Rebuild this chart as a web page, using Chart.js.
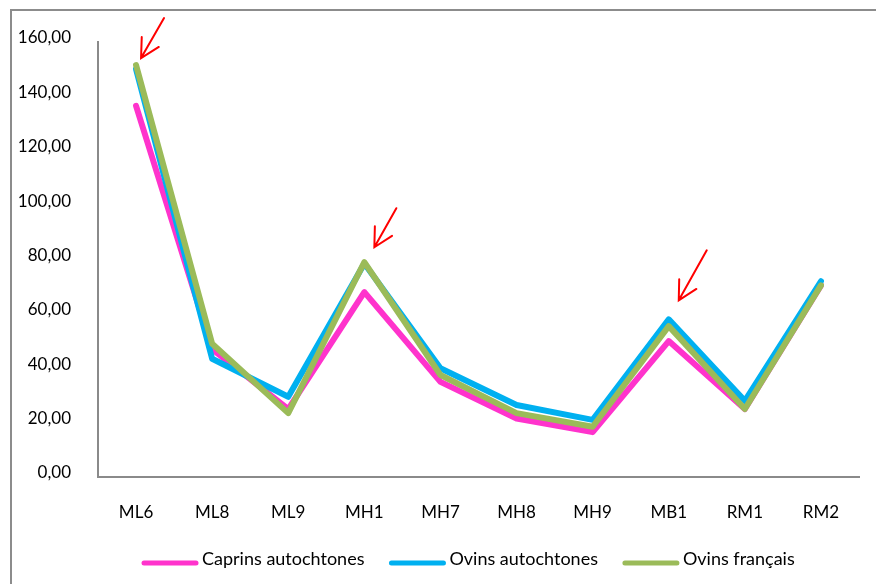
<!DOCTYPE html>
<html>
<head>
<meta charset="utf-8">
<script src="https://cdn.jsdelivr.net/npm/chart.js@4.4.1/dist/chart.umd.min.js"></script>
<style>
  html, body { margin: 0; padding: 0; background: #ffffff; }
  #wrap { width: 876px; height: 584px; position: relative; }
</style>
</head>
<body>
<div id="wrap"><canvas id="c" width="876" height="584"></canvas></div>
<script>
// Sampling sites
const categories = ['ML6', 'ML8', 'ML9', 'MH1', 'MH7', 'MH8', 'MH9', 'MB1', 'RM1', 'RM2'];

// Values per group
const caprinsAutochtones = [136.5, 47, 25, 68, 35, 21.5, 16.5, 50, 25, 70.5];
const ovinsAutochtones   = [150, 43.5, 29.5, 78.5, 40, 26.5, 21, 58, 28, 72];
const ovinsFrancais      = [151.5, 49, 23.5, 79, 37.5, 23.5, 18.5, 55.5, 25, 70.5];

const seriesNames  = ['Caprins autochtones', 'Ovins autochtones', 'Ovins français'];
const seriesColors = ['#FF33CC', '#00B0F0', '#9BBB59'];

// Value axis
const yMin = 0, yMax = 160, yStep = 20;

// Highlighted peaks (red arrows): site and series the arrow points at
const highlighted = [
  { site: 'ML6', series: 2, tip: [5, -7],   tail: [23, -40] },
  { site: 'MH1', series: 2, tip: [10, -15], tail: [22, -39] },
  { site: 'MB1', series: 1, tip: [10, -19], tail: [28, -50] }
];

const FONT = 'Lato, "Open Sans", "DejaVu Sans", sans-serif';
const AXIS_GREY = '#8a8a8a';

const fmt = v => v.toFixed(2).replace('.', ',');

// Outer frame of the chart object (left and top edges)
const framePlugin = {
  id: 'frame',
  beforeDraw(chart) {
    const ctx = chart.ctx;
    ctx.save();
    ctx.fillStyle = '#ffffff';
    ctx.fillRect(0, 0, chart.width, chart.height);
    ctx.strokeStyle = '#8c8c8c';
    ctx.lineWidth = 2;
    ctx.beginPath();
    ctx.moveTo(11, chart.height + 2);
    ctx.lineTo(11, 10);
    ctx.lineTo(chart.width + 2, 10);
    ctx.stroke();
    ctx.restore();
  }
};

// Red arrows pointing at the peaks
const arrowPlugin = {
  id: 'arrows',
  afterDatasetsDraw(chart) {
    const ctx = chart.ctx;
    ctx.save();
    ctx.strokeStyle = '#FF0000';
    ctx.lineWidth = 2;
    ctx.lineCap = 'round';
    highlighted.forEach(a => {
      const idx = categories.indexOf(a.site);
      const pt = chart.getDatasetMeta(a.series).data[idx];
      const tx = pt.x + a.tip[0], ty = pt.y + a.tip[1];
      const sx = tx + a.tail[0], sy = ty + a.tail[1];
      const ang = Math.atan2(sy - ty, sx - tx);
      const wing = 21, spread = 28 * Math.PI / 180;
      ctx.beginPath();
      ctx.moveTo(sx, sy);
      ctx.lineTo(tx, ty);
      ctx.moveTo(tx + wing * Math.cos(ang - spread), ty + wing * Math.sin(ang - spread));
      ctx.lineTo(tx, ty);
      ctx.lineTo(tx + wing * Math.cos(ang + spread), ty + wing * Math.sin(ang + spread));
      ctx.stroke();
    });
    ctx.restore();
  }
};

// Legend drawn below the axis with line samples
const legendPlugin = {
  id: 'lineLegend',
  afterDraw(chart) {
    const ctx = chart.ctx;
    ctx.save();
    ctx.font = '18px ' + FONT;
    ctx.textBaseline = 'middle';
    const y = 559;
    let x = 142;
    chart.data.datasets.forEach(ds => {
      ctx.strokeStyle = ds.borderColor;
      ctx.lineWidth = 5;
      ctx.lineCap = 'round';
      ctx.beginPath();
      ctx.moveTo(x + 2, y + 4);
      ctx.lineTo(x + 54, y + 4);
      ctx.stroke();
      ctx.fillStyle = '#000000';
      ctx.fillText(ds.label, x + 60, y);
      x += 60 + ctx.measureText(ds.label).width + 25;
    });
    ctx.restore();
  }
};

const datasets = [caprinsAutochtones, ovinsAutochtones, ovinsFrancais].map((vals, i) => ({
  label: seriesNames[i],
  data: vals,
  borderColor: seriesColors[i],
  backgroundColor: seriesColors[i],
  borderWidth: 6,
  borderCapStyle: 'round',
  borderJoinStyle: 'round',
  pointRadius: 0,
  tension: 0,
  fill: false,
  order: 2 - i
}));

new Chart(document.getElementById('c'), {
  type: 'line',
  data: { labels: categories, datasets },
  options: {
    responsive: false,
    devicePixelRatio: 1,
    animation: false,
    events: [],
    layout: { padding: { top: 42, right: 17, left: 0, bottom: 0 } },
    plugins: {
      legend: { display: false },
      tooltip: { enabled: false },
      title: { display: false }
    },
    scales: {
      x: {
        offset: true,
        grid: { display: false, drawTicks: false },
        border: { display: true, color: AXIS_GREY, width: 2 },
        ticks: { color: '#000000', font: { family: FONT, size: 17 }, padding: 25, maxRotation: 0, autoSkip: false },
        afterFit(s) { s.height = 107; }
      },
      y: {
        min: yMin,
        max: yMax,
        grid: { display: false, drawTicks: false },
        border: { display: true, color: AXIS_GREY, width: 2 },
        ticks: {
          stepSize: yStep,
          color: '#000000',
          font: { family: FONT, size: 17 },
          padding: 27,
          labelOffset: -4,
          callback: v => fmt(v)
        },
        afterFit(s) { s.width = 98; }
      }
    }
  },
  plugins: [framePlugin, arrowPlugin, legendPlugin]
});
</script>
</body>
</html>
